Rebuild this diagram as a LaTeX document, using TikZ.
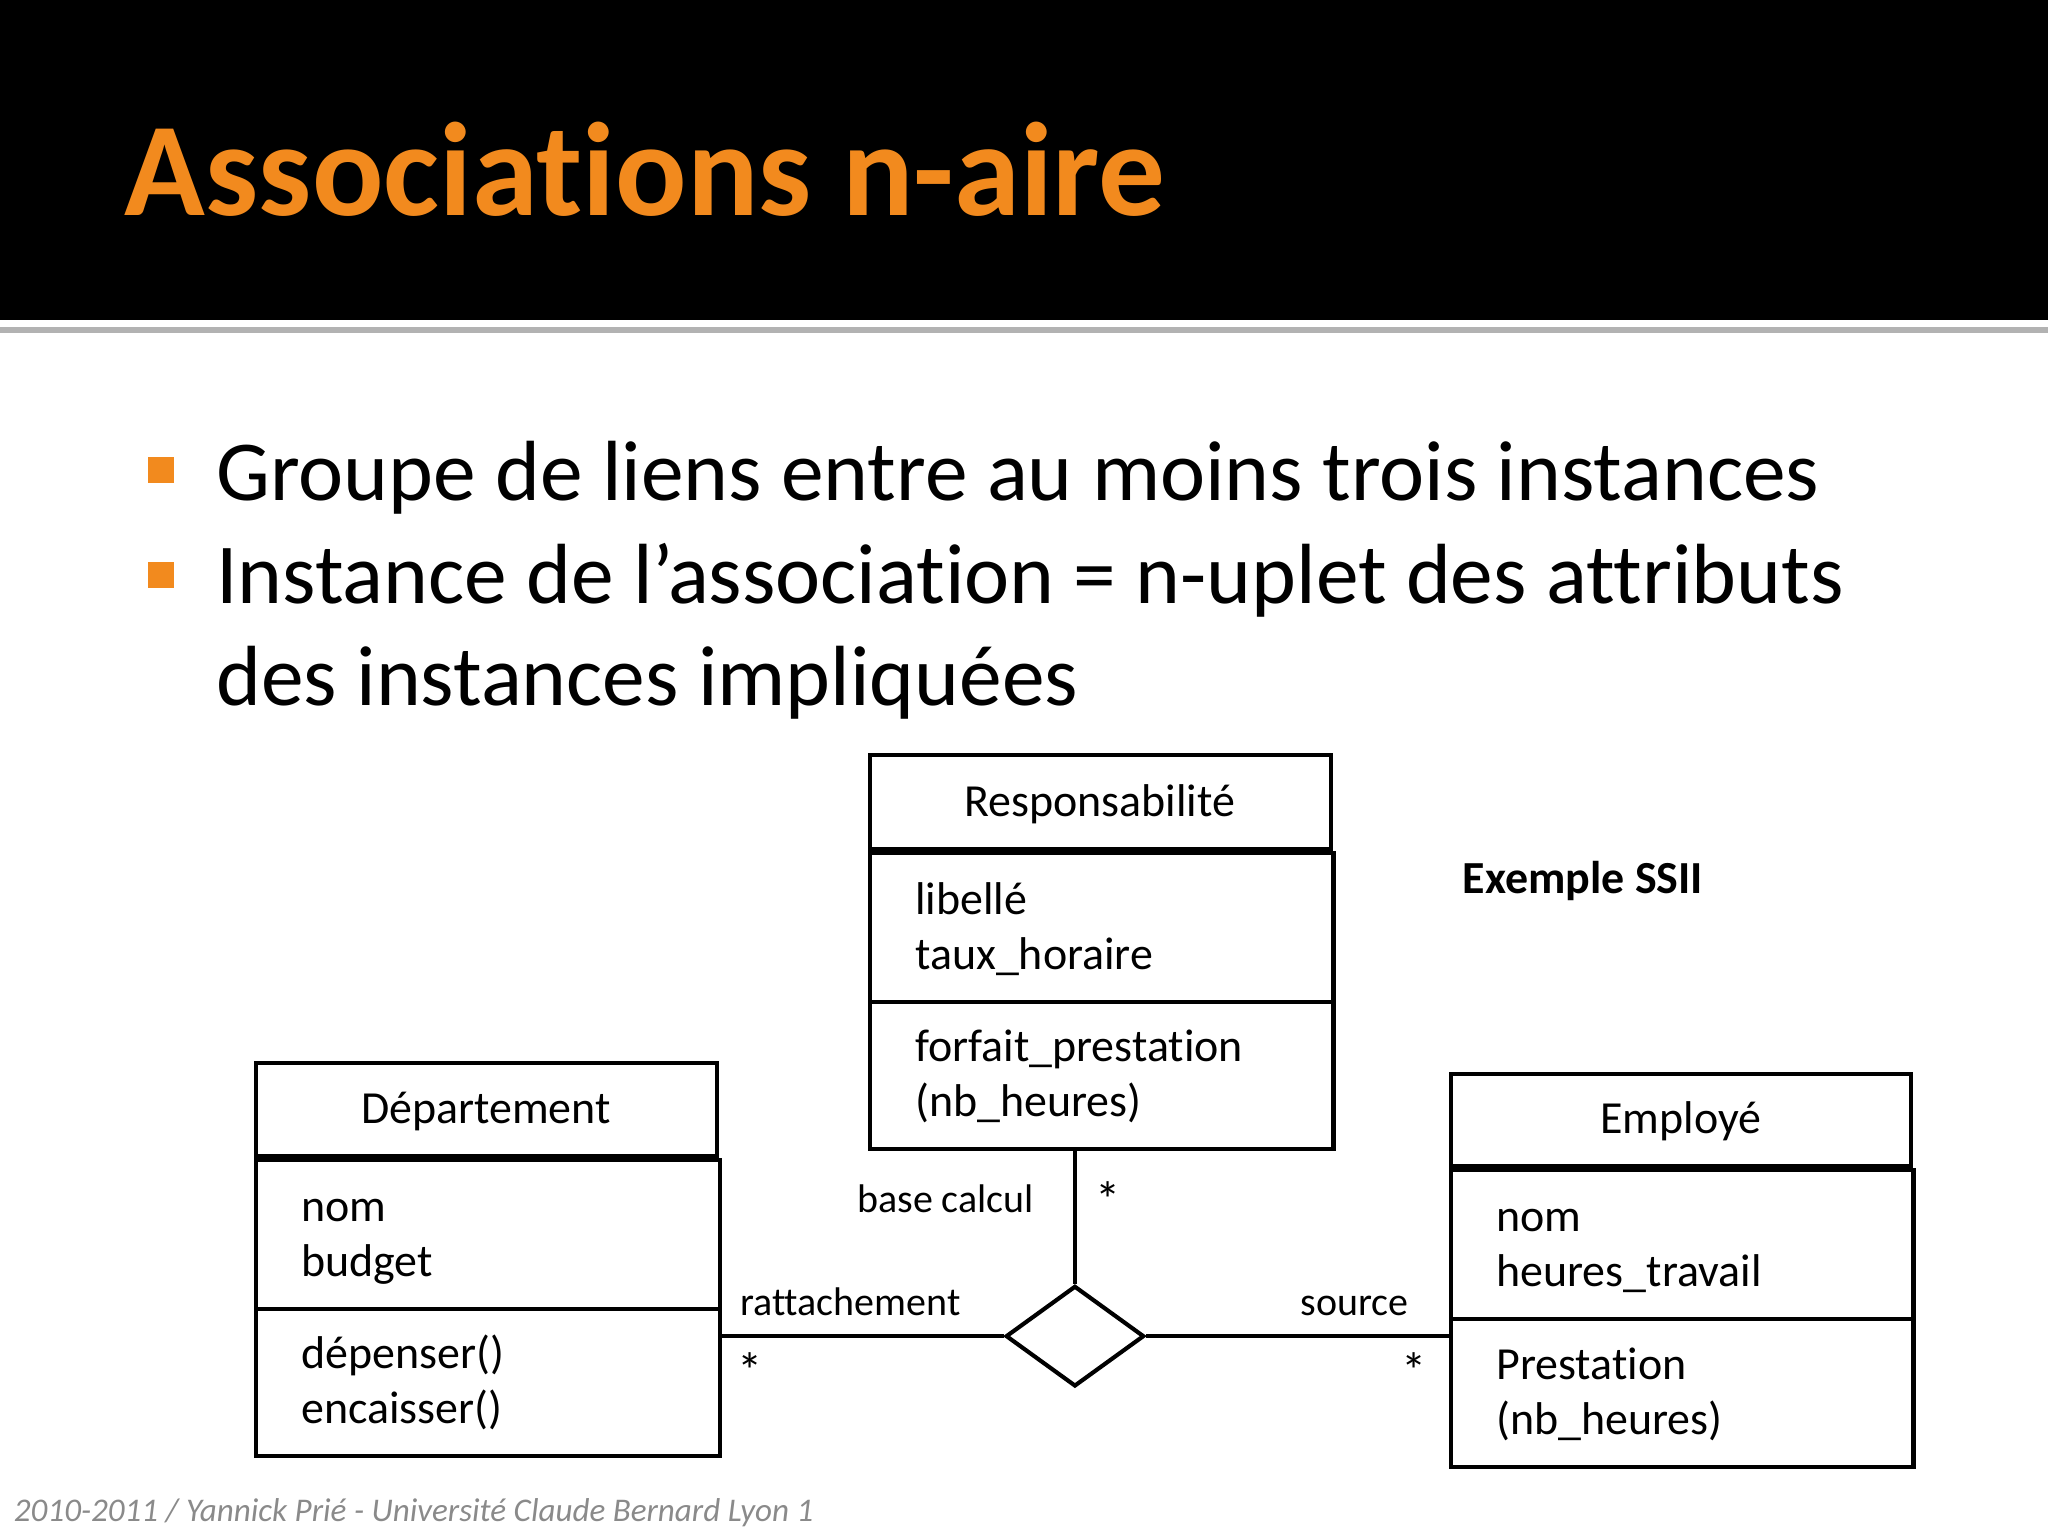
\documentclass[tikz,border=0pt]{standalone}
\usepackage{fontspec}
\setmainfont[RawFeature=-liga]{Carlito}
\usetikzlibrary{shapes.geometric}
\definecolor{orng}{HTML}{F28A1E}
\definecolor{foot}{HTML}{8A8A8A}
\begin{document}
\begin{tikzpicture}[x=0.01cm,y=-0.01cm,
  box/.style={draw,line width=0.9pt,rectangle,inner sep=0},
  txt/.style={anchor=base west,inner sep=0,font=\fontsize{10}{12}\selectfont},
  lbl/.style={anchor=base,inner sep=0,font=\fontsize{8.7}{10}\selectfont},
  ln/.style={line width=0.9pt}]
\useasboundingbox (0,0) rectangle (1568,1176);
\fill[black] (0,0) rectangle (1568,245);
\fill[gray!60] (0,250) rectangle (1568,255);
\node[anchor=base west,inner sep=0,text=orng,font=\fontsize{29}{29}\selectfont\bfseries] (title) at (95,165) {Associations n-aire};
% bullets
\fill[orng] (113,350) rectangle (133,370);
\fill[orng] (113,430) rectangle (133,450);
\node[anchor=base west,inner sep=0,font=\fontsize{18.6}{20}\selectfont] (b1) at (165,383) {Groupe de liens entre au moins trois instances};
\node[anchor=base west,inner sep=0,font=\fontsize{18.6}{20}\selectfont] (b2) at (165,462) {Instance de l’association = n-uplet des attributs};
\node[anchor=base west,inner sep=0,font=\fontsize{18.6}{20}\selectfont] (b3) at (165,540) {des instances impliquées};
% Responsabilite
\node[box,minimum width=353*0.01cm,minimum height=72*0.01cm] (rt) at (842.5,614) {};
\node[box,minimum width=355*0.01cm,minimum height=114*0.01cm] (ra) at (843.5,710) {};
\node[box,minimum width=355*0.01cm,minimum height=113*0.01cm] (ro) at (843.5,823.5) {};
\node[txt,anchor=base] (rtt) at (842,625) {Responsabilité};
\node[txt] (ra1) at (700,700) {libellé};
\node[txt] (ra2) at (700,742) {taux\_horaire};
\node[txt] (ro1) at (700,813) {forfait\_prestation};
\node[txt] (ro2) at (700,855) {(nb\_heures)};
% Departement
\node[box,minimum width=353*0.01cm,minimum height=71*0.01cm] (dt) at (372.5,849.5) {};
\node[box,minimum width=355*0.01cm,minimum height=114*0.01cm] (da) at (373.5,945) {};
\node[box,minimum width=355*0.01cm,minimum height=113*0.01cm] (do) at (373.5,1058.5) {};
\node[txt,anchor=base] (dtt) at (372,860) {Département};
\node[txt] (da1) at (230,935) {nom};
\node[txt] (da2) at (230,977) {budget};
\node[txt] (do1) at (230,1048) {dépenser()};
\node[txt] (do2) at (230,1090) {encaisser()};
% Employe
\node[box,minimum width=352*0.01cm,minimum height=71*0.01cm] (et) at (1287,857.5) {};
\node[box,minimum width=354*0.01cm,minimum height=114*0.01cm] (ea) at (1288,953) {};
\node[box,minimum width=354*0.01cm,minimum height=113*0.01cm] (eo) at (1288,1066.5) {};
\node[txt,anchor=base] (ett) at (1287,868) {Employé};
\node[txt] (ea1) at (1145,943) {nom};
\node[txt] (ea2) at (1145,985) {heures\_travail};
\node[txt] (eo1) at (1145,1056) {Prestation};
\node[txt] (eo2) at (1145,1098) {(nb\_heures)};
% diamond
\node[diamond,draw,line width=0.9pt,minimum width=106*0.01cm,minimum height=77*0.01cm,inner sep=0] (dia) at (823,1023) {};
\draw[ln] (dia.west -| do.east) -- (dia.west);
\draw[ln] (dia.east) -- (dia.east -| eo.west);
\draw[ln] (ro.south -| dia.north) -- (dia.north);
\node[lbl] (l1) at (724,928) {base calcul};
\node[lbl,font=\fontsize{11}{12}\selectfont] (l2) at (848,932) {*};
\node[lbl] (l3) at (651,1007) {rattachement};
\node[lbl] (l4) at (1037,1007) {source};
\node[lbl,font=\fontsize{11}{12}\selectfont] (l5) at (574,1063) {*};
\node[lbl,font=\fontsize{11}{12}\selectfont] (l6) at (1083,1063) {*};
\node[anchor=base,inner sep=0,font=\fontsize{10}{12}\selectfont\bfseries] (ex) at (1212,684) {Exemple SSII};
\node[anchor=base west,inner sep=0,text=foot,font=\fontsize{7.2}{8}\selectfont\itshape] (ft) at (10,1165) {2010-2011 / Yannick Prié - Université Claude Bernard Lyon 1};
\end{tikzpicture}
\end{document}
